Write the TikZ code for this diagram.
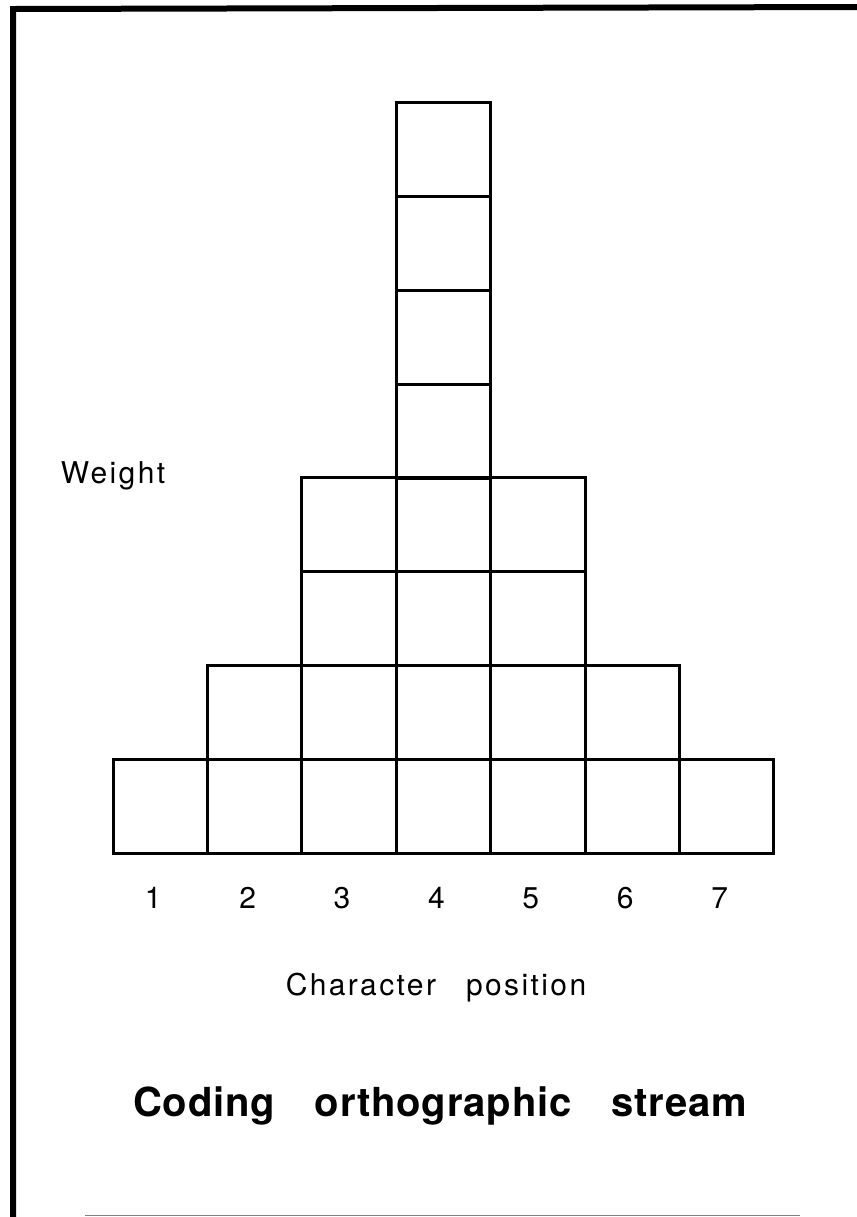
\documentclass[tikz,border=0pt]{standalone}
\usepackage{fontspec}
\setmainfont{TeX Gyre Heros}
\usepackage{tikz}
\usetikzlibrary{positioning}

\begin{document}
\begin{tikzpicture}[
    x=0.5pt, y=-0.5pt,
    cell/.style={rectangle, draw, line width=1.5pt, minimum width=47.2pt, minimum height=46.9pt, inner sep=0pt, outer sep=0pt},
    lbl/.style={font=\fontsize{15}{18}\selectfont\addfontfeature{LetterSpace=8}, inner sep=0pt},
    title/.style={font=\fontsize{20}{24}\selectfont\bfseries\addfontfeature{LetterSpace=2}, inner sep=0pt}
]
\useasboundingbox (0,0) rectangle (857,1217);

% Frame
\draw[line width=3pt] (13,1217) -- (13,9) -- (857,7);
\draw[line width=0.4pt, gray] (85,1215) -- (800,1215);

% Squares, one column per character position
\foreach \col/\h in {1/1,2/2,3/4,4/8,5/4,6/2,7/1} {
  \foreach \row in {1,...,\h} {
    \node[cell] (c\col-\row) at ({113+(\col-0.5)*94.4},{853-(\row-0.5)*93.75}) {};
  }
  % position number
  \node[lbl] (n\col) at ({113+(\col-0.5)*94.4-7},898) {\col};
}

% Labels
\node[lbl] (weight) at (113,476) {Weight};
\node[lbl] (xlabel) at (436,988) {Character\quad position};
\node[title] (caption) at (440,1106) {Coding\quad orthographic\quad stream};

\end{tikzpicture}
\end{document}
